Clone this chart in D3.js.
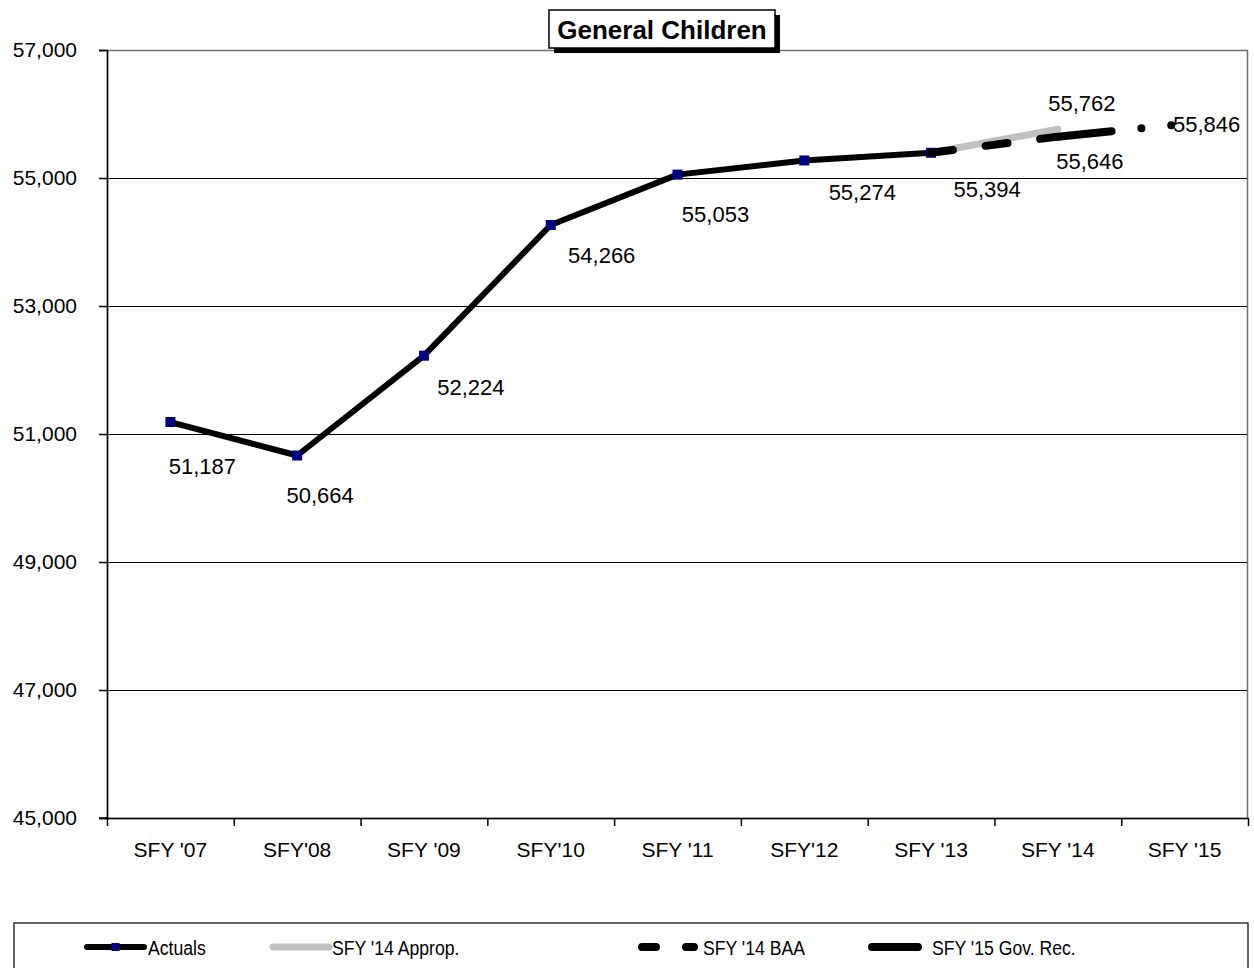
<!DOCTYPE html>
<html>
<head>
<meta charset="utf-8">
<script src="https://cdn.jsdelivr.net/npm/d3@7"></script>
<style>
  body { margin: 0; background: #fff; }
  svg { display: block; font-family: "Liberation Sans", Arial, sans-serif; }
</style>
</head>
<body>
<div id="chart"></div>
<script>
// data
const categories = ["SFY '07", "SFY'08", "SFY '09", "SFY'10", "SFY '11", "SFY'12", "SFY '13", "SFY '14", "SFY '15"];
const actuals = [51187, 50664, 52224, 54266, 55053, 55274, 55394];
const approp = [{cat: "SFY '13", value: 55394}, {cat: "SFY '14", value: 55762}];
const baa = [{cat: "SFY '13", value: 55394}, {cat: "SFY '14", value: 55646}];
const govRec = [{cat: "SFY '14", value: 55646}, {cat: "SFY '15", value: 55846}];
const yTicks = [45000, 47000, 49000, 51000, 53000, 55000, 57000];
const legendNames = ["Actuals", "SFY '14 Approp.", "SFY '14 BAA", "SFY '15 Gov. Rec."];

const W = 1254, H = 968;
const margin = {top: 50, right: 6, bottom: 150, left: 107};
const width = W - margin.left - margin.right,
      height = H - margin.top - margin.bottom;

const actualData = actuals.map((v, i) => ({cat: categories[i], value: v}));

const svg = d3.select("#chart").append("svg")
    .attr("width", W).attr("height", H);
svg.append("rect").attr("width", W).attr("height", H).attr("fill", "#fff");

const g = svg.append("g").attr("transform", `translate(${margin.left},${margin.top})`);

const x = d3.scaleBand().domain(categories).range([0, width]).padding(0);
const y = d3.scaleLinear().domain([45000, 57000]).range([height, 0]);
const cx = d => x(d.cat) + x.bandwidth() / 2;

// gridlines
g.append("g").attr("shape-rendering", "crispEdges").selectAll("line")
    .data(yTicks.filter(t => t > 45000 && t < 57000))
    .join("line")
    .attr("x1", 0).attr("x2", width)
    .attr("y1", d => y(d) + 0.5).attr("y2", d => y(d) + 0.5)
    .attr("stroke", "#000").attr("stroke-width", 1);

// plot border
g.append("rect").attr("x", 0.5).attr("y", 0.5).attr("width", width - 1).attr("height", height)
    .attr("fill", "none").attr("stroke", "#707070").attr("stroke-width", 1.5);

// y axis
const yAxis = g.append("g")
    .call(d3.axisLeft(y).tickValues(yTicks).tickFormat(d3.format(",")).tickSize(8).tickPadding(22));
yAxis.select(".domain").attr("stroke", "#000").attr("stroke-width", 1.5);
yAxis.selectAll("line").attr("stroke", "#000").attr("stroke-width", 1.5);
yAxis.selectAll("text").attr("font-size", 21).attr("fill", "#000")
    .attr("font-family", "Liberation Sans, Arial, sans-serif");

// x axis: ticks at category edges, labels at centres
const xEdge = d3.scaleLinear().domain([0, categories.length]).range([0, width]);
const xAxis = g.append("g").attr("transform", `translate(0,${height})`)
    .call(d3.axisBottom(xEdge).ticks(categories.length).tickFormat("").tickSize(8).tickSizeOuter(0));
xAxis.select(".domain").attr("stroke", "#000").attr("stroke-width", 1.5);
xAxis.selectAll("line").attr("stroke", "#000").attr("stroke-width", 1.5);
g.append("line").attr("x1", -8).attr("x2", 0).attr("y1", height).attr("y2", height)
    .attr("stroke", "#000").attr("stroke-width", 1.5);

const xLab = g.append("g").attr("transform", `translate(0,${height})`)
    .call(d3.axisBottom(x).tickSize(0).tickPadding(24));
xLab.select(".domain").remove();
xLab.selectAll("text").attr("font-size", 21).attr("fill", "#000")
    .attr("font-family", "Liberation Sans, Arial, sans-serif");

const line = d3.line().x(cx).y(d => y(d.value));

// actuals
g.append("path").datum(actualData)
    .attr("fill", "none").attr("stroke", "#000").attr("stroke-width", 6)
    .attr("stroke-linejoin", "round").attr("stroke-linecap", "round")
    .attr("d", line);
g.append("g").selectAll("rect").data(actualData).join("rect")
    .attr("x", d => cx(d) - 5).attr("y", d => y(d.value) - 5)
    .attr("width", 10).attr("height", 10).attr("fill", "#000080");

// SFY '14 Approp.
g.append("path").datum(approp)
    .attr("fill", "none").attr("stroke", "#c0c0c0").attr("stroke-width", 7)
    .attr("stroke-linecap", "round").attr("d", line);

// SFY '14 BAA
const baaDash = "22,33";
g.append("path").datum(baa)
    .attr("fill", "none").attr("stroke", "#000").attr("stroke-width", 8)
    .attr("stroke-linecap", "round").attr("stroke-dasharray", baaDash).attr("d", line);

// SFY '15 Gov. Rec.
const govDash = "54,30,0,30,0,200";
g.append("path").datum(govRec)
    .attr("fill", "none").attr("stroke", "#000").attr("stroke-width", 8)
    .attr("stroke-linecap", "round").attr("stroke-dasharray", govDash).attr("d", line);

// data labels
const actualOffsets = [[32, 44], [23, 40], [47, 32], [51, 31], [38, 40], [58, 32], [56, 37]];
const fmt = d3.format(",");
const labels = actualData.map((d, i) => ({d, off: actualOffsets[i]}))
    .concat([
      {d: approp[1], off: [24, -26]},
      {d: baa[1], off: [32, 25]},
      {d: govRec[1], off: [22, 1]}
    ]);
g.append("g").selectAll("text").data(labels).join("text")
    .attr("x", l => cx(l.d) + l.off[0])
    .attr("y", l => y(l.d.value) + l.off[1])
    .attr("text-anchor", "middle").attr("dominant-baseline", "central")
    .attr("font-size", 22).attr("fill", "#000")
    .text(l => fmt(l.d.value));

// title
const tb = {x: 549, y: 10, w: 226, h: 38};
svg.append("rect").attr("x", tb.x + 5).attr("y", tb.y + 5).attr("width", tb.w).attr("height", tb.h).attr("fill", "#000");
svg.append("rect").attr("x", tb.x).attr("y", tb.y).attr("width", tb.w).attr("height", tb.h)
    .attr("fill", "#fff").attr("stroke", "#000").attr("stroke-width", 1.5);
svg.append("text").attr("x", tb.x + tb.w / 2).attr("y", tb.y + tb.h / 2 + 1)
    .attr("text-anchor", "middle").attr("dominant-baseline", "central")
    .attr("font-size", 26).attr("font-weight", "bold").text("General Children");

// legend
const lg = svg.append("g");
lg.append("rect").attr("x", 14).attr("y", 923).attr("width", 1234).attr("height", 70)
    .attr("fill", "#fff").attr("stroke", "#000").attr("stroke-width", 1.2);
const ly = 947;
const items = [
  {x: 87, len: 57, stroke: "#000", sw: 6, dash: null, marker: true},
  {x: 273, len: 56, stroke: "#c0c0c0", sw: 7, dash: null},
  {x: 642, len: 52, stroke: "#000", sw: 8, dash: "14,30"},
  {x: 872, len: 46, stroke: "#000", sw: 8, dash: govDash}
];
const textX = [148, 332, 703, 932];
items.forEach((it, i) => {
  lg.append("line").attr("x1", it.x).attr("x2", it.x + it.len).attr("y1", ly).attr("y2", ly)
    .attr("stroke", it.stroke).attr("stroke-width", it.sw).attr("stroke-linecap", "round")
    .attr("stroke-dasharray", it.dash);
  if (it.marker) {
    lg.append("rect").attr("x", it.x + it.len / 2 - 4).attr("y", ly - 4)
      .attr("width", 8).attr("height", 8).attr("fill", "#000080");
  }
  lg.append("text").attr("transform", `translate(${textX[i]},${ly}) scale(0.84,1)`)
    .attr("dominant-baseline", "central").attr("font-size", 21).attr("fill", "#000")
    .text(legendNames[i]);
});
</script>
</body>
</html>
